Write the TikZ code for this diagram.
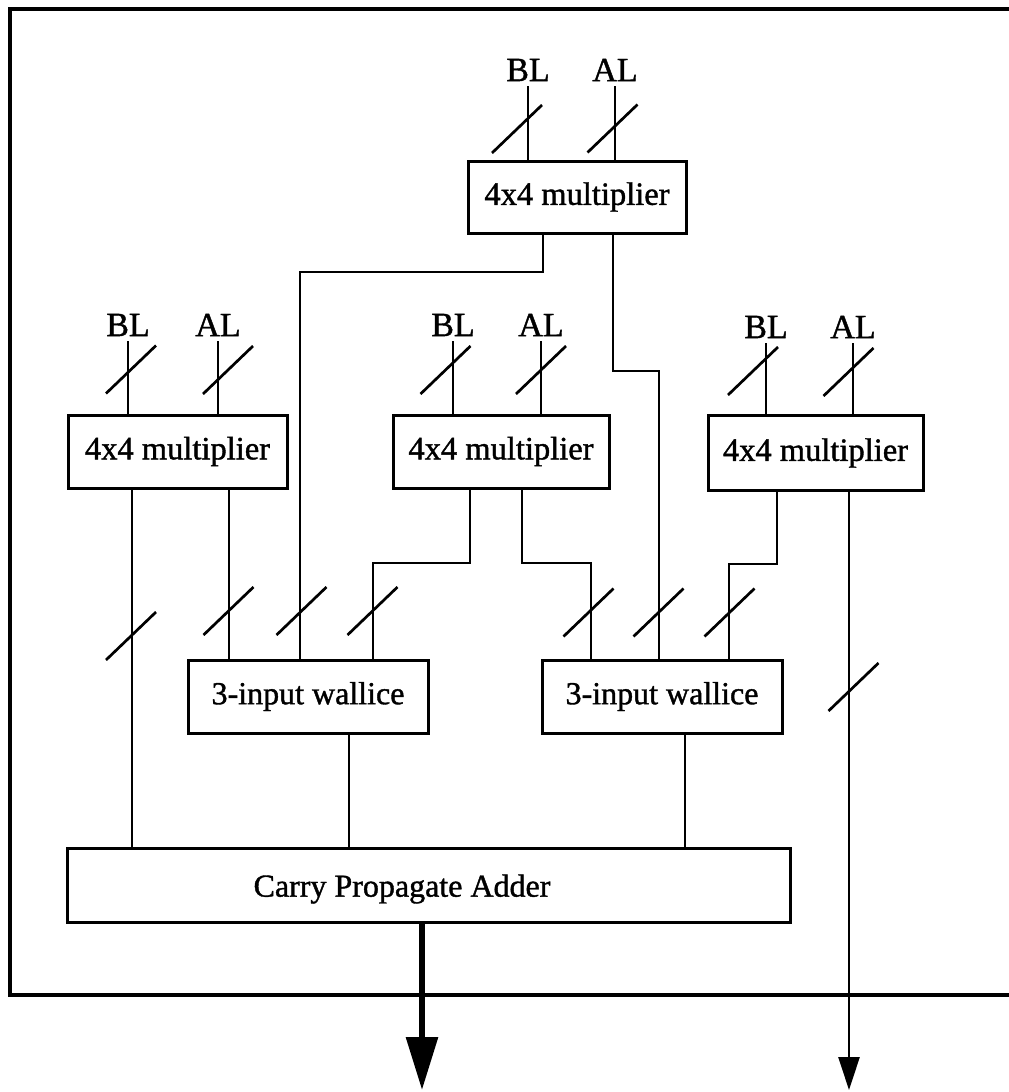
\documentclass[tikz,border=0pt]{standalone}
\usepackage{fontspec}
\setmainfont[FakeBold=1.2]{Liberation Serif}
\usetikzlibrary{arrows.meta}
\begin{document}
\begin{tikzpicture}[x=1pt,y=-1pt,line join=miter]
\tikzset{
  blk/.style={draw, line width=3pt, inner sep=0pt, font=\fontsize{32.5}{38}\selectfont},
  lbl/.style={inner xsep=1pt, inner ysep=5pt, font=\fontsize{34}{40}\selectfont},
  wire/.style={line width=2.7pt},
  buscut/.pic={\draw[line width=2.7pt] (-25pt,-24pt) -- (25pt,24pt);}
}
\useasboundingbox (0,0) rectangle (1009,1092);
% outer frame (open on the right)
\draw[line width=3.4pt] (1009,9) -- (10,9) -- (10,995) -- (1009,995);

% blocks
\node[blk, minimum width=218pt, minimum height=72pt] (tm) at (577,197) {4x4 multiplier};
\node[blk, minimum width=219pt, minimum height=73pt] (lm) at (177.5,451.5) {4x4 multiplier};
\node[blk, minimum width=216pt, minimum height=73pt] (mm) at (501,451.5) {4x4 multiplier};
\node[blk, minimum width=215pt, minimum height=75pt] (rm) at (815.5,453) {4x4 multiplier};
\node[blk, font=\fontsize{32}{38}\selectfont, minimum width=240pt, minimum height=73pt] (w1) at (308,696.5) {3-input wallice};
\node[blk, font=\fontsize{32}{38}\selectfont, minimum width=240pt, minimum height=73pt] (w2) at (662,696.5) {3-input wallice};
\node[blk, minimum width=723pt, minimum height=74pt] (cpa) at (428.5,885) {};
\node[font=\fontsize{32}{38}\selectfont, inner sep=0pt] (cpatext) at (402,889) {Carry Propagate Adder};

% input labels
\node[lbl] (tbl) at (528,70) {BL};
\node[lbl] (tal) at (615,70) {AL};
\node[lbl] (lbl) at (128,325) {BL};
\node[lbl] (lal) at (218,325) {AL};
\node[lbl] (mbl) at (453,325) {BL};
\node[lbl] (mal) at (541,325) {AL};
\node[lbl] (rbl) at (766,327) {BL};
\node[lbl] (ral) at (853,327) {AL};

% input wires
\foreach \l/\b in {tbl/tm, tal/tm, lbl/lm, lal/lm, mbl/mm, mal/mm, rbl/rm, ral/rm}
  \draw[wire] (\l.south) -- (\l.south |- \b.north);

% ports
\path ([xshift=-45.5pt]lm.south) coordinate (lmo1)
      ([xshift=51.5pt]lm.south) coordinate (lmo2)
      ([xshift=-79pt]w1.north) coordinate (w1i1)
      ([xshift=-8pt]w1.north) coordinate (w1i2)
      ([xshift=65pt]w1.north) coordinate (w1i3)
      ([xshift=-71pt]w2.north) coordinate (w2i1)
      ([xshift=-3pt]w2.north) coordinate (w2i2)
      ([xshift=67pt]w2.north) coordinate (w2i3)
      ([xshift=41pt]w1.south) coordinate (w1o)
      ([xshift=23pt]w2.south) coordinate (w2o)
      ([xshift=33.5pt]rm.south) coordinate (rmo2)
      ([xshift=-6.5pt]cpa.south) coordinate (cpao);
\coordinate (out1) at (422,1090);
\coordinate (out2) at (849,1090);

% connections
\draw[wire] (lmo1) -- (lmo1 |- cpa.north);
\draw[wire] (lmo2) -- (w1i1);
\draw[wire] ([xshift=-34pt]tm.south) |- (300,272) -- (w1i2);
\draw[wire] ([xshift=36pt]tm.south) |- (659,371) -- (w2i2);
\draw[wire] ([xshift=-31pt]mm.south) |- (373,563) -- (w1i3);
\draw[wire] ([xshift=21pt]mm.south) |- (591,563) -- (w2i1);
\draw[wire] ([xshift=-38.5pt]rm.south) |- (729,564) -- (w2i3);
\draw[wire] (w1o) -- (w1o |- cpa.north);
\draw[wire] (w2o) -- (w2o |- cpa.north);
\draw[wire, -{Triangle[length=33pt,width=21pt]}] (rmo2) -- (out2);
\draw[line width=6pt, -{Triangle[length=53pt,width=31pt]}] (cpao) -- (out1);

% bus width marks
\foreach \p in {(517,129),(612.5,128.5),(131,369.5),(228,370),(445.5,370),(541,370),(753,371),(848.5,372),
                (131,636),(228.5,611),(301.5,611),(372.5,611),(588.5,612.5),(658.5,612.5),(729.5,612.5),(853.5,687)}
  \pic at \p {buscut};
\end{tikzpicture}
\end{document}
